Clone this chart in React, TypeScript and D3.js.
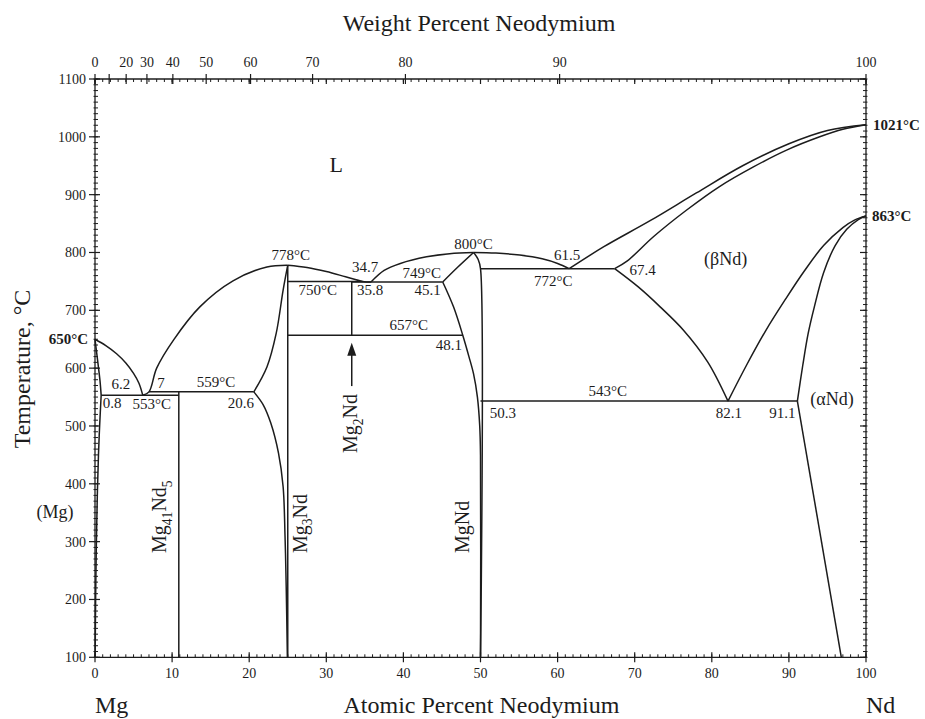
import React from 'react';
import * as d3 from 'd3';

type Pt = [number, number];

// ---- axes ----
const atomicTicks = [0, 10, 20, 30, 40, 50, 60, 70, 80, 90, 100];
const weightTicks = [0, 10, 20, 30, 40, 50, 60, 70, 80, 90, 100];
const weightLabels = [0, 20, 30, 40, 50, 60, 70, 80, 90, 100];
const tempTicks = [100, 200, 300, 400, 500, 600, 700, 800, 900, 1000, 1100];

// ---- phase boundaries: [at.% Nd, temperature °C] ----
const liquidusMg: Pt[] = [[0, 650], [1.4, 639], [2.8, 625], [4.0, 609], [5.0, 591], [5.7, 574], [6.2, 553]];
const solidusMg: Pt[] = [[0, 650], [0.35, 612], [0.65, 578], [0.8, 553]];
const solvusMg: Pt[] = [[0.8, 553], [0.6, 500], [0.45, 450], [0.3, 380], [0.18, 300], [0.08, 200], [0.02, 100]];
const liquidusMg3Nd: Pt[] = [[6.2, 553], [7, 559], [8.0, 600], [10.2, 649], [13.6, 706], [17.9, 751], [22.3, 775], [25, 778]];
const liquidusMg3NdRight: Pt[] = [[25, 778], [27.5, 774], [30, 767], [32.5, 758], [34.7, 750], [35.8, 749]];
const liquidusMgNdLeft: Pt[] = [[35.8, 749], [37.5, 769], [39.6, 781], [43, 792.5], [46, 798], [49.1, 800]];
const liquidusMgNdRight: Pt[] = [[49.1, 800], [52, 799], [55.1, 795.5], [58, 789], [60, 781], [61.5, 772]];
const liquidusNd: Pt[] = [[61.5, 772], [66, 810], [72, 855], [78, 903], [84, 950], [90, 988], [95, 1011], [100, 1021]];
const solidusBetaNd: Pt[] = [[67.4, 772], [69, 785], [72.5, 828], [76.7, 873], [81, 914], [85.4, 948], [89.7, 977], [94, 1000], [97, 1013], [100, 1021]];
const betaLower: Pt[] = [[67.4, 772], [70.5, 740], [73.3, 706], [76.3, 666], [79.5, 610], [82.1, 543]];
const betaAlpha: Pt[] = [[82.1, 543], [84.5, 605], [87, 665], [89.5, 718], [92, 768], [94.5, 812], [97, 843], [98.5, 856], [100, 863]];
const alphaBeta: Pt[] = [[91.1, 543], [91.8, 605], [92.5, 660], [93.3, 706], [94.5, 765], [96, 812], [97.5, 840], [99, 857], [100, 863]];
const alphaSolvus: Pt[] = [[91.1, 543], [96.8, 100]];
const mg3NdUpper: Pt[] = [[20.6, 559], [22.3, 602], [23.5, 660], [24.4, 735], [25, 778]];
const mg3NdLower: Pt[] = [[20.6, 559], [21.8, 537], [22.8, 505], [23.8, 453], [24.4, 395], [24.65, 308], [24.8, 222], [24.95, 100]];
const mgNdSolidus: Pt[] = [[45.1, 749], [47, 774], [49.1, 800]];
const mgNdLeft: Pt[] = [[45.1, 749], [46.5, 706], [47.7, 657], [48.5, 620], [49.1, 590], [49.6, 550], [49.9, 500], [50, 450], [50, 100]];
const mgNdRight: Pt[] = [[49.1, 800], [49.7, 788], [50, 772], [50, 100]];

// isotherms: temperature, from, to (at.% Nd)
const isoTemps = [553, 559, 750, 749, 657, 772, 543];
const isoFrom = [0.8, 7, 25, 33.3, 25, 50, 50];
const isoTo = [10.87, 20.6, 34.7, 45.1, 47.7, 67.4, 91.1];

// compounds: composition, top temperature
const compoundAt = [10.87, 25, 33.3];
const compoundTop = [559, 778, 750];
const compoundBottom = [100, 100, 657];

// point annotations: text, at.%, °C, offset
const noteText = ['778°C', '750°C', '34.7', '35.8', '749°C', '45.1', '657°C', '48.1', '800°C', '61.5', '772°C', '67.4', '543°C', '50.3', '82.1', '91.1', '6.2', '7', '559°C', '0.8', '553°C', '20.6'];
const noteAt = [25, 25, 34.7, 35.8, 45.1, 45.1, 40.7, 48.1, 49.1, 61.5, 61.5, 67.4, 66.5, 50.3, 82.1, 91.1, 6.2, 7, 15.7, 0.8, 6.2, 20.6];
const noteT = [778, 750, 750, 749, 749, 749, 657, 657, 800, 772, 772, 772, 543, 543, 543, 543, 553, 559, 559, 553, 553, 559];
const noteDx = [3, 30, 2.5, -1, -21, -15, 0, -17, 0, -2, -16, 28, 0, 20, 1, -15, -22, 12, 0, 11, 9, -13];
const noteDy = [-5, 14, -9.5, 13, -4, 13, -5, 15, -3.5, -9, 17, 6, -5, 17, 17, 17, -6, -4, -5, 13, 14, 16];

const FONT = '"Liberation Serif", "Times New Roman", serif';
const INK = '#1c1c1c';

const x = d3.scaleLinear().domain([0, 100]).range([95, 866]);
const y = d3.scaleLinear().domain([100, 1100]).range([657.3, 79]);

const wtToAt = (w: number) => {
  const nd = w / 144.24;
  const mg = (100 - w) / 24.305;
  return (nd / (nd + mg)) * 100;
};

const curve = d3
  .line<Pt>()
  .x((d) => x(d[0]))
  .y((d) => y(d[1]))
  .curve(d3.curveCatmullRom.alpha(0.5));

const boundaries: Pt[][] = [
  liquidusMg, solidusMg, solvusMg, liquidusMg3Nd, liquidusMg3NdRight, liquidusMgNdLeft,
  liquidusMgNdRight, liquidusNd, solidusBetaNd, betaLower, betaAlpha, alphaBeta, alphaSolvus,
  mg3NdUpper, mg3NdLower, mgNdSolidus, mgNdLeft, mgNdRight,
];

function Formula({ parts, tx, ty, size }: { parts: [string, boolean][]; tx: number; ty: number; size: number }) {
  return (
    <text transform={`translate(${tx},${ty}) rotate(-90)`} fontSize={size} fontFamily={FONT} fill={INK}>
      {parts.map(([s, sub], i) =>
        sub ? (
          <tspan key={i} fontSize={size * 0.68} dy={size * 0.28}>{s}</tspan>
        ) : (
          <tspan key={i} dy={i > 0 && parts[i - 1][1] ? -size * 0.28 : 0}>{s}</tspan>
        )
      )}
    </text>
  );
}

export default function App() {
  const minorAt = d3.range(0, 101, 1);
  const minorT = d3.range(100, 1101, 10);
  const x0 = x(0), x1 = x(100), yb = y(100), yt = y(1100);
  const arrowX = x(33.3);
  const arrowTip = y(644);
  const arrowBase = y(569);

  return (
    <svg width={925} height={719} style={{ position: 'absolute', left: 0, top: 0, background: '#fff' }}>
      <rect width={925} height={719} fill="#fff" />
      {/* frame */}
      <g stroke={INK} strokeWidth={1.3} fill="none">
        <line x1={x0} y1={yb} x2={x1} y2={yb} />
        <line x1={x0} y1={yt} x2={x1} y2={yt} />
        <line x1={x0} y1={yt} x2={x0} y2={yb} />
        <line x1={x1} y1={yt} x2={x1} y2={yb} />
      </g>
      {/* minor ticks */}
      <g stroke={INK} strokeWidth={1}>
        {minorAt.map((v) => (
          <g key={'ma' + v}>
            <line x1={x(v)} x2={x(v)} y1={yb} y2={yb - 3} />
            <line x1={x(v)} x2={x(v)} y1={yt} y2={yt + 3} />
          </g>
        ))}
        {minorT.map((v) => (
          <g key={'mt' + v}>
            <line x1={x0 - 1.5} x2={x0 + 3} y1={y(v)} y2={y(v)} />
            <line x1={x1 - 3} x2={x1 + 1.5} y1={y(v)} y2={y(v)} />
          </g>
        ))}
      </g>
      {/* major ticks */}
      <g stroke={INK} strokeWidth={1.2}>
        {atomicTicks.map((v) => (
          <g key={'at' + v}>
            <line x1={x(v)} x2={x(v)} y1={yb + 5} y2={yb - 5} />
            <line x1={x(v)} x2={x(v)} y1={yt} y2={yt + 5} />
          </g>
        ))}
        {weightTicks.map((w) => (
          <line key={'wt' + w} x1={x(wtToAt(w))} x2={x(wtToAt(w))} y1={yt - 5} y2={yt + 5} />
        ))}
        {tempTicks.map((v) => (
          <g key={'tt' + v}>
            <line x1={x0 - 6} x2={x0 + 5} y1={y(v)} y2={y(v)} />
            <line x1={x1 - 6} x2={x1} y1={y(v)} y2={y(v)} />
          </g>
        ))}
      </g>
      {/* tick labels */}
      <g fontFamily={FONT} fontSize={14} fill={INK}>
        {atomicTicks.map((v) => (
          <text key={'al' + v} x={x(v)} y={yb + 21} textAnchor="middle">{v}</text>
        ))}
        {weightLabels.map((w) => (
          <text key={'wl' + w} x={x(wtToAt(w))} y={yt - 12} textAnchor="middle">{w}</text>
        ))}
        {tempTicks.map((v) => (
          <text key={'tl' + v} x={x0 - 9} y={y(v) + 5} textAnchor="end">{v}</text>
        ))}
      </g>
      {/* axis titles */}
      <g fontFamily={FONT} fontSize={24} fill={INK}>
        <text x={479} y={31} textAnchor="middle">Weight Percent Neodymium</text>
        <text x={481.5} y={713} textAnchor="middle">Atomic Percent Neodymium</text>
        <text x={x0} y={713}>Mg</text>
        <text x={x1} y={713}>Nd</text>
        <text transform="translate(30,369) rotate(-90)" textAnchor="middle">Temperature, °C</text>
      </g>
      {/* phase boundaries */}
      <g stroke={INK} strokeWidth={1.5} fill="none" strokeLinejoin="round">
        {boundaries.map((b, i) => (
          <path key={'b' + i} d={curve(b) ?? ''} />
        ))}
        {isoTemps.map((t, i) => (
          <line key={'iso' + i} x1={x(isoFrom[i])} x2={x(isoTo[i])} y1={y(t)} y2={y(t)} />
        ))}
        {compoundAt.map((c, i) => (
          <line key={'cp' + i} x1={x(c)} x2={x(c)} y1={y(compoundTop[i])} y2={y(compoundBottom[i])} />
        ))}
        <line x1={arrowX} x2={arrowX} y1={arrowBase} y2={arrowTip + 10} />
      </g>
      <path d={`M${arrowX},${arrowTip} L${arrowX - 4.5},${arrowTip + 13} L${arrowX + 4.5},${arrowTip + 13} Z`} fill={INK} />
      {/* value annotations */}
      <g fontFamily={FONT} fontSize={15} fill={INK} textAnchor="middle">
        {noteText.map((s, i) => (
          <text key={'n' + i} x={x(noteAt[i]) + noteDx[i]} y={y(noteT[i]) + noteDy[i]}>{s}</text>
        ))}
      </g>
      {/* melting points */}
      <g fontFamily={FONT} fontSize={15} fontWeight="bold" fill={INK}>
        <text x={x(0) - 7} y={y(650) + 5} textAnchor="end">650°C</text>
        <text x={x(100) + 7} y={y(1021) + 5}>1021°C</text>
        <text x={x(100) + 6} y={y(863) + 5}>863°C</text>
      </g>
      {/* phase field labels */}
      <g fontFamily={FONT} fill={INK} textAnchor="middle">
        <text x={x(31.3)} y={y(939)} fontSize={22}>L</text>
        <text x={x(81.8)} y={y(778)} fontSize={18}>(βNd)</text>
        <text x={x(95.6)} y={y(536)} fontSize={18}>(αNd)</text>
        <text x={55} y={518} fontSize={18}>(Mg)</text>
      </g>
      <Formula parts={[['Mg', false], ['41', true], ['Nd', false], ['5', true]]} tx={166} ty={553} size={20} />
      <Formula parts={[['Mg', false], ['3', true], ['Nd', false]]} tx={306.5} ty={553} size={20} />
      <Formula parts={[['Mg', false], ['2', true], ['Nd', false]]} tx={357} ty={453} size={20} />
      <Formula parts={[['MgNd', false]]} tx={468.5} ty={553} size={20} />
    </svg>
  );
}
